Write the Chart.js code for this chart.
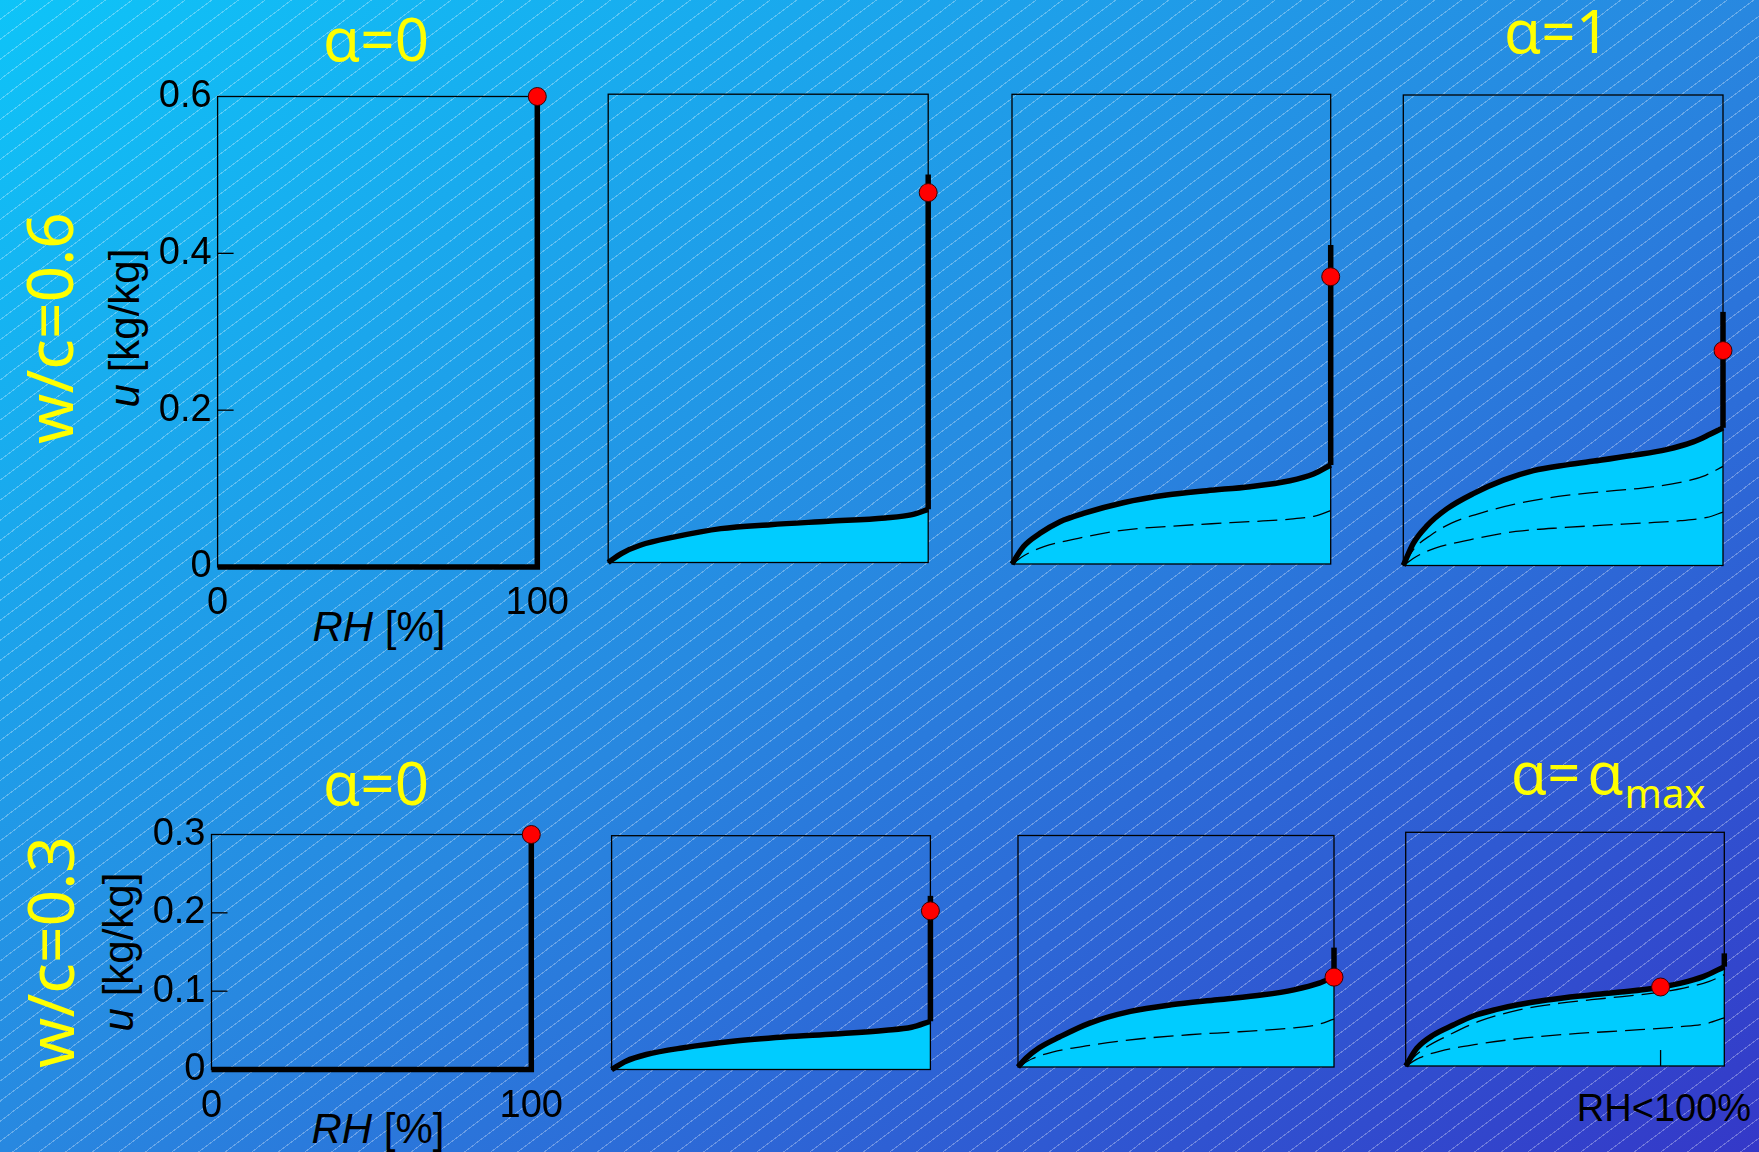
<!DOCTYPE html>
<html><head><meta charset="utf-8">
<script src="https://cdn.jsdelivr.net/npm/chart.js@4.4.1/dist/chart.umd.min.js"></script>
<style>
html,body{margin:0;padding:0;}
body{width:1759px;height:1152px;overflow:hidden;position:relative;
background:
 repeating-linear-gradient(143deg, rgba(255,255,255,0) 0px, rgba(255,255,255,0) 15px, rgba(255,255,255,0.30) 15px, rgba(255,255,255,0.30) 16px),
 linear-gradient(to bottom right, #0EC4F8 0%, #2888E0 50%, #3438C8 100%);
font-family:"Liberation Sans", Arial, sans-serif;}
canvas{position:absolute;}
.t{position:absolute;white-space:nowrap;transform:translate(-50%,-50%);line-height:1;color:#000;}
.r{transform:translate(-50%,-50%) rotate(-90deg);}
.yl{color:#FFFF00;font-family:"Noto Sans",sans-serif;font-size:60px;}
.ax{font-family:"Liberation Sans",Arial,sans-serif;font-size:42px;}
</style></head>
<body>
<div class="t yl" style="left:376px;top:38px;">α=0</div>
<div class="t yl" style="left:1557px;top:30px;">α=1</div>
<div class="t yl" style="left:376px;top:782px;">α=0</div>
<div class="yl" style="position:absolute;left:1511px;top:743px;line-height:1;white-space:nowrap;font-size:58px;word-spacing:-8px;">α= α<span style="font-size:40px;position:relative;top:14px;margin-left:1px;">max</span></div>
<div class="t yl r" style="left:49px;top:328px;font-size:64px;">w/c=0.6</div>
<div class="t yl r" style="left:50px;top:952px;font-size:64px;">w/c=0.3</div>
<div class="t ax r" style="left:125px;top:328px;"><i>u</i> [kg/kg]</div>
<div class="t ax r" style="left:119px;top:952px;"><i>u</i> [kg/kg]</div>
<div class="t ax" style="left:379px;top:627px;"><i>RH</i> [%]</div>
<div class="t ax" style="left:378px;top:1129px;"><i>RH</i> [%]</div>
<div class="t" style="left:1664px;top:1108px;font-size:38px;">RH&lt;100%</div>
<script>
// ---------- data (RH in %, u in kg/kg) ----------
// w/c = 0.6 (top row)
const rhTop2 = [0, 4.1, 10.0, 20.8, 35.2, 50.7, 68.7, 86.6, 95.0, 100];
const uTop2  = [0, 0.0115, 0.0221, 0.0328, 0.0434, 0.0485, 0.0528, 0.0571, 0.0613, 0.0681];
const rhTop3 = [0, 3.56, 8.79, 15.06, 22.4, 34.9, 48.5, 61.1, 74.7, 87.2, 94.6, 100];
const uTop3  = [0, 0.0221, 0.0392, 0.0541, 0.0647, 0.0783, 0.0881, 0.0937, 0.0988, 0.1064, 0.1150, 0.1265];
const rhTop4 = [0, 3.13, 7.3, 13.6, 21.9, 31.3, 40.7, 51.1, 61.5, 71.9, 82.3, 90.7, 95.9, 100];
const uTop4  = [0, 0.0283, 0.0502, 0.0722, 0.0917, 0.1088, 0.1210, 0.1283, 0.1341, 0.1405, 0.1478, 0.1576, 0.1673, 0.1756];
const jumpTop = [0.6, 0.497, 0.4075, 0.3234];   // top of the thick vertical line at RH=100
const dotTopU = [0.6, 0.474, 0.367, 0.2741];    // red point
// w/c = 0.3 (bottom row)
const rhBot2 = [0, 4.5, 10.9, 22.1, 38.1, 54.1, 70.1, 86.1, 94.1, 100];
const uBot2  = [0, 0.0107, 0.0192, 0.0277, 0.0363, 0.0418, 0.0457, 0.0504, 0.0542, 0.0619];
const rhBot3 = [0, 2.6, 6.6, 13.1, 22.7, 35.6, 48.5, 63.1, 77.6, 87.3, 95.3, 100];
const uBot3  = [0, 0.0116, 0.0246, 0.0388, 0.0569, 0.0720, 0.0806, 0.0871, 0.0935, 0.1000, 0.1086, 0.1172];
const rhBot4 = [0, 3.5, 8.7, 14.9, 21.2, 28.5, 34.8, 44.3, 54.7, 65.2, 75.6, 86.1, 93.4, 100];
const uBot4  = [0, 0.0227, 0.0398, 0.0526, 0.0642, 0.0727, 0.0783, 0.0847, 0.0899, 0.0941, 0.0984, 0.1061, 0.1147, 0.1275];
const jumpBot = [0.3, 0.2228, 0.1547, 0.1446];
const dotBotU = [0.3, 0.2036, 0.1164, 0.1014];
const dotBotRH = [100, 100, 100, 80];
// alpha = 0 (no hydration product): u stays 0 until RH = 100
const rhDry = [0, 100, 100];
const uDryTop = [0, 0, 0.6];
const uDryBot = [0, 0, 0.3];
// RH<100% marker in last panel
const markRH = [80, 80];
const markU = [0, 0.0205];
// axes
const xTicks = [0, 100];
const xTickLabels = ['0', '100'];
const yTicksTop = [0, 0.2, 0.4, 0.6];
const yTickLabelsTop = ['0', '0.2', '0.4', '0.6'];
const yTicksBot = [0, 0.1, 0.2, 0.3];
const yTickLabelsBot = ['0', '0.1', '0.2', '0.3'];

// ---------- helpers ----------
const pts = (xs, ys) => xs.map((x, i) => ({x: x, y: ys[i]}));
const last = a => a[a.length - 1];
function curveDs(xs, ys) {
  return {data: pts(xs, ys), borderColor: '#000', borderWidth: 5.5, cubicInterpolationMode: 'monotone',
    fill: 'origin', backgroundColor: '#00CCFF', pointRadius: 0, order: 2, borderJoinStyle: 'round', clip: false};
}
function dashDs(xs, ys) {
  return {data: pts(xs, ys), borderColor: '#000', borderWidth: 1.3, borderDash: [20, 8], cubicInterpolationMode: 'monotone',
    fill: false, pointRadius: 0, order: 3, clip: false};
}
function segDs(xs, ys, w) {
  return {data: pts(xs, ys), borderColor: '#000', borderWidth: w || 5.5, tension: 0, fill: false,
    pointRadius: 0, order: 1, borderJoinStyle: 'miter', clip: false};
}
function dotDs(x, y) {
  return {data: [{x: x, y: y}], showLine: false, pointRadius: 9, pointBackgroundColor: '#FF0000',
    pointBorderColor: '#3a0000', pointBorderWidth: 1, order: 0, clip: false};
}

const framePlugin = {
  id: 'frame',
  beforeDatasetsDraw(chart, args, opts) {
    const ctx = chart.ctx, a = chart.chartArea;
    ctx.save();
    ctx.strokeStyle = '#000';
    ctx.lineWidth = 1.3;
    ctx.strokeRect(a.left, a.top, a.right - a.left, a.bottom - a.top);
    if (opts.inTicks) {
      const ys = chart.scales.y;
      opts.inTicks.forEach(v => {
        const p = ys.getPixelForValue(v);
        ctx.beginPath(); ctx.moveTo(a.left, p); ctx.lineTo(a.left + 16, p); ctx.stroke();
      });
    }
    ctx.restore();
  }
};

function panel(rect, ymax, datasets, axis) {
  const ml = axis ? 95 : 30, mr = 45, mt = 30, mb = axis ? 70 : 30;
  const cl = Math.floor(rect.L - ml), ct = Math.floor(rect.T - mt);
  const cw = Math.ceil(rect.R + mr) - cl, ch = Math.ceil(rect.B + mb) - ct;
  const pl = rect.L - cl, pt = rect.T - ct, pr = cl + cw - rect.R, pb = ct + ch - rect.B;
  const cv = document.createElement('canvas');
  cv.width = cw; cv.height = ch;
  cv.style.left = cl + 'px'; cv.style.top = ct + 'px';
  cv.style.width = cw + 'px'; cv.style.height = ch + 'px';
  document.body.appendChild(cv);
  const tickFont = {family: 'Liberation Sans', size: 38};
  new Chart(cv, {
    type: 'line',
    data: {datasets: datasets},
    options: {
      responsive: false, animation: false, devicePixelRatio: 1,
      layout: {padding: axis ? {left: 0, right: pr, top: pt, bottom: 0} : {left: pl, right: pr, top: pt, bottom: pb}},
      scales: {
        x: {type: 'linear', min: 0, max: 100, display: !!axis,
          grid: {display: false, drawTicks: false}, border: {display: false},
          ticks: {font: tickFont, color: '#000', padding: 14, maxRotation: 0,
            callback: (v, i) => axis ? axis.xl[i] : ''},
          afterBuildTicks: s => { s.ticks = xTicks.map(v => ({value: v})); },
          afterFit: s => { s.height = axis ? pb : 0; }},
        y: {type: 'linear', min: 0, max: ymax, display: !!axis,
          grid: {display: false, drawTicks: false}, border: {display: false},
          ticks: {font: tickFont, color: '#000', padding: 6,
            callback: (v, i) => axis ? axis.yl[i] : ''},
          afterBuildTicks: s => { s.ticks = (axis ? axis.yt : [0, ymax]).map(v => ({value: v})); },
          afterFit: s => { s.width = axis ? pl : 0; }}
      },
      plugins: {legend: {display: false}, tooltip: {enabled: false},
        filler: {drawTime: 'beforeDatasetsDraw'},
        frame: {inTicks: axis ? axis.yt.slice(1, -1) : null}}
    },
    plugins: [framePlugin]
  });
}

// ---------- panels ----------
const R = {
  t1: {L: 217.6, T: 96.5, R: 538, B: 567},
  t2: {L: 608.2, T: 94.2, R: 928.2, B: 562.5},
  t3: {L: 1012, T: 94.3, R: 1330.7, B: 564},
  t4: {L: 1403.3, T: 95, R: 1723, B: 565.5},
  b1: {L: 211.5, T: 834.5, R: 532, B: 1069.5},
  b2: {L: 611.6, T: 835.7, R: 930.4, B: 1069.5},
  b3: {L: 1018, T: 835.5, R: 1334, B: 1067},
  b4: {L: 1405.7, T: 832.3, R: 1724.3, B: 1066}
};

panel(R.t1, 0.6, [segDs(rhDry, uDryTop), dotDs(100, dotTopU[0])],
  {xl: xTickLabels, yl: yTickLabelsTop, yt: yTicksTop});
panel(R.t2, 0.6, [curveDs(rhTop2, uTop2), segDs([100, 100], [last(uTop2), jumpTop[1]]), dotDs(100, dotTopU[1])]);
panel(R.t3, 0.6, [curveDs(rhTop3, uTop3), dashDs(rhTop2, uTop2), segDs([100, 100], [last(uTop3), jumpTop[2]]), dotDs(100, dotTopU[2])]);
panel(R.t4, 0.6, [curveDs(rhTop4, uTop4), dashDs(rhTop3, uTop3), dashDs(rhTop2, uTop2), segDs([100, 100], [last(uTop4), jumpTop[3]]), dotDs(100, dotTopU[3])]);

panel(R.b1, 0.3, [segDs(rhDry, uDryBot), dotDs(dotBotRH[0], dotBotU[0])],
  {xl: xTickLabels, yl: yTickLabelsBot, yt: yTicksBot});
panel(R.b2, 0.3, [curveDs(rhBot2, uBot2), segDs([100, 100], [last(uBot2), jumpBot[1]]), dotDs(dotBotRH[1], dotBotU[1])]);
panel(R.b3, 0.3, [curveDs(rhBot3, uBot3), dashDs(rhBot2, uBot2), segDs([100, 100], [last(uBot3), jumpBot[2]]), dotDs(dotBotRH[2], dotBotU[2])]);
panel(R.b4, 0.3, [curveDs(rhBot4, uBot4), dashDs(rhBot3, uBot3), dashDs(rhBot2, uBot2), segDs([100, 100], [last(uBot4), jumpBot[3]]),
  segDs(markRH, markU, 1.3), dotDs(dotBotRH[3], dotBotU[3])]);
</script>
</body></html>
